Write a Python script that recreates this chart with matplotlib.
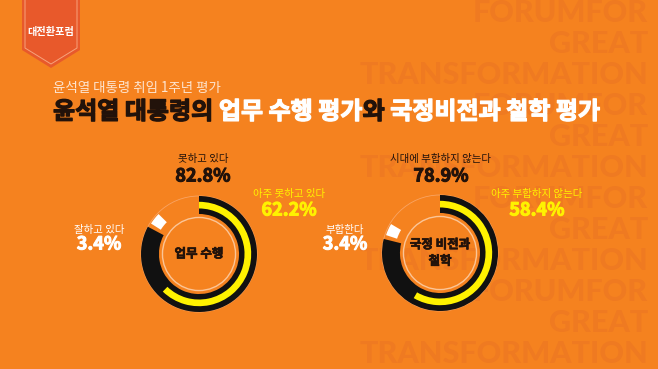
import matplotlib.pyplot as plt
import matplotlib.patheffects as pe
from matplotlib.patches import Polygon, Circle

plt.rcParams['font.family'] = ['Noto Sans CJK KR', 'DejaVu Sans']

W, H = 658, 369
BG = '#F5821F'
DARK = '#22120A'
YELLOW = '#FFF200'

# data
subtitle = '윤석열 대통령 취임 1주년 평가'
title_parts = [('윤석열 대통령의 ', DARK), ('업무 수행 평가', 'white'),
               ('와', DARK), (' 국정비전과 철학 평가', 'white')]
charts = ['업무 수행', '국정 비전과\n철학']
negative_labels = ['못하고 있다', '시대에 부합하지 않는다']
negative = [82.8, 78.9]
strong_labels = ['아주 못하고 있다', '아주 부합하지 않는다']
strong = [62.2, 58.4]
positive_labels = ['잘하고 있다', '부합한다']
positive = [3.4, 3.4]
watermark = ['FORUMFOR', 'GREAT', 'TRANSFORMATION']

fig = plt.figure(figsize=(6.58, 3.69), dpi=100, facecolor=BG)
bg = fig.add_axes([0, 0, 1, 1])
bg.set_xlim(0, W)
bg.set_ylim(H, 0)
bg.axis('off')

# background watermark
for i in range(12):
    bg.text(648, 13 + 31 * i, watermark[i % 3], ha='right', va='center',
            fontsize=22, fontweight='black', family=['Lato', 'DejaVu Sans'],
            color='#EF7A21', zorder=0)

# logo badge
bg.add_patch(Polygon([(22, 0), (80, 0), (80, 50), (51, 68), (22, 50)],
                     closed=True, fc='#E8592B', ec='none', zorder=1))
bg.add_patch(Polygon([(25, -2), (77, -2), (77, 48), (51, 64), (25, 48)],
                     closed=True, fill=False, ec='#F7A27C', lw=0.7, zorder=2))
bg.text(51, 32, '대전환포럼', ha='center', va='center', fontsize=7.3,
        fontweight='bold', color='white', zorder=3)

# titles
bg.text(53, 88, subtitle, ha='left', va='center', fontsize=9.7,
        color='#FDE4CF', zorder=3)
fig.canvas.draw()
r = fig.canvas.get_renderer()
x = 53
for txt, col in title_parts:
    t = bg.text(x, 112, txt, ha='left', va='center', fontsize=17.3,
                fontweight='heavy', color=col, zorder=3,
                path_effects=[pe.withStroke(linewidth=0.9, foreground=col)])
    x += t.get_window_extent(renderer=r).width

centers = [(199, 254), (440, 253)]
R = 58
pad = 1.06
neg_pos = [(203, 159), (441, 159)]
strong_pos = [(289, 194), (537, 194)]
pos_pos = [(99, 230), (345, 230)]


def pct(x, y, value, col):
    bg.text(x, y, f'{value}%', ha='center', va='center', fontsize=13,
            fontweight='bold', color=col, zorder=3,
            path_effects=[pe.withStroke(linewidth=0.7, foreground=col)])


for i, (cx, cy) in enumerate(centers):
    ax = fig.add_axes([(cx - R * pad) / W, (H - cy - R * pad) / H,
                       2 * R * pad / W, 2 * R * pad / H])
    ax.set_facecolor('none')
    gap = 1.2
    ax.add_patch(Circle((0, 0), 1.0, fill=False, ec='#F9A463', lw=0.6))
    ax.pie([negative[i], 100 - negative[i]], startangle=90, counterclock=False,
           colors=['#111111', 'none'], radius=1.0,
           wedgeprops=dict(width=0.31, linewidth=0))
    ax.pie([negative[i] + gap, positive[i], 100 - negative[i] - gap - positive[i]],
           startangle=90, counterclock=False, colors=['none', 'white', 'none'],
           radius=0.98, wedgeprops=dict(width=0.2, linewidth=0))
    ax.pie([strong[i], 100 - strong[i]], startangle=90, counterclock=False,
           colors=[YELLOW, 'none'], radius=0.9,
           wedgeprops=dict(width=0.115, linewidth=0))
    ax.add_patch(Circle((0, 0), 0.63, fill=False, ec='#FBC597', lw=1.0))
    ax.text(0, 0, charts[i], ha='center', va='center', fontsize=9,
            fontweight='heavy', color=DARK, linespacing=1.35,
            path_effects=[pe.withStroke(linewidth=0.5, foreground=DARK)])
    ax.set_xlim(-pad, pad)
    ax.set_ylim(-pad, pad)
    ax.axis('off')

    nx, ny = neg_pos[i]
    bg.text(nx, ny, negative_labels[i], ha='center', va='center', fontsize=7.5, color=DARK)
    pct(nx, ny + 17, negative[i], DARK)
    sx, sy = strong_pos[i]
    bg.text(sx, sy, strong_labels[i], ha='center', va='center', fontsize=7.5, color=YELLOW)
    pct(sx, sy + 16, strong[i], YELLOW)
    px, py = pos_pos[i]
    bg.text(px, py, positive_labels[i], ha='center', va='center', fontsize=7.5, color='white')
    pct(px, py + 14, positive[i], 'white')

fig.savefig('out.png', dpi=100, facecolor=BG)
